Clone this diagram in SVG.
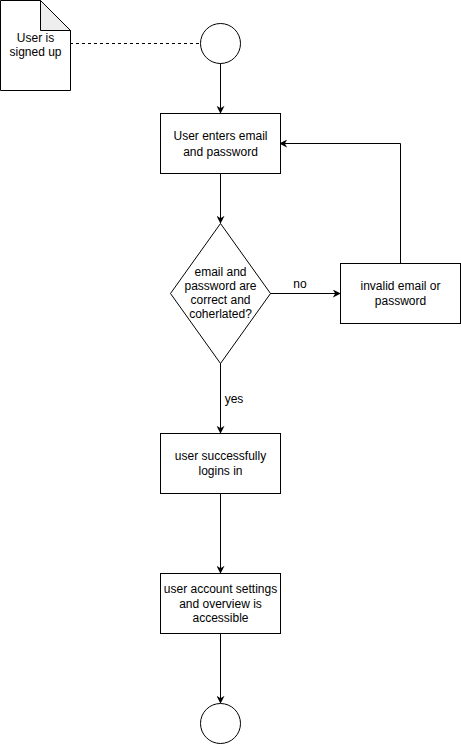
<svg xmlns="http://www.w3.org/2000/svg" width="461" height="744" viewBox="0 0 461 744">
<defs>
<style>
.n{fill:#fff;stroke:#000;stroke-width:1}
.t{font-family:"Liberation Sans",Arial,sans-serif;font-size:12px;fill:#000;text-anchor:middle}
.c{fill:none;stroke:#000;stroke-width:1}
</style>
<marker id="a" viewBox="0 0 10 10" refX="9" refY="5" markerWidth="8" markerHeight="8" markerUnits="userSpaceOnUse" orient="auto">
<path d="M0,0 L10,5 L0,10 L3,5 Z" fill="#000"/>
</marker>
</defs>
<rect width="461" height="744" fill="#fff"/>
<g id="connectors">
<line class="c" x1="70" y1="43.5" x2="200" y2="43.5" stroke-dasharray="3,3"/>
<line class="c" x1="220.5" y1="63" x2="220.5" y2="113" marker-end="url(#a)"/>
<line class="c" x1="220.5" y1="173" x2="220.5" y2="223" marker-end="url(#a)"/>
<line class="c" x1="270" y1="293.5" x2="340" y2="293.5" marker-end="url(#a)"/>
<polyline class="c" points="400.5,263 400.5,143.5 280,143.5" marker-end="url(#a)"/>
<line class="c" x1="220.5" y1="363" x2="220.5" y2="433" marker-end="url(#a)"/>
<line class="c" x1="220.5" y1="493" x2="220.5" y2="573" marker-end="url(#a)"/>
<line class="c" x1="220.5" y1="633" x2="220.5" y2="703" marker-end="url(#a)"/>
<text class="t" x="300" y="288">no</text>
<text class="t" x="234" y="403">yes</text>
</g>
<g id="note">
<path class="n" d="M0.5,0.5 H40.5 L70.5,30.5 V90.5 H0.5 Z"/>
<path d="M40.5,0.5 V30.5 H70.5 Z" fill="#eee" stroke="#000"/>
<text class="t" x="35.5" y="42">User is</text>
<text class="t" x="35.5" y="56">signed up</text>
</g>
<g id="start"><circle class="n" cx="220.5" cy="43.5" r="20"/></g>
<g id="enter">
<rect class="n" x="160.5" y="113.5" width="120" height="60"/>
<text class="t" x="220.5" y="140">User enters email</text>
<text class="t" x="220.5" y="156">and password</text>
</g>
<g id="decision">
<path class="n" d="M220.5,223.5 L270.5,293.5 L220.5,363.5 L170.5,293.5 Z"/>
<text class="t" x="220.5" y="276">email and</text>
<text class="t" x="220.5" y="290">password are</text>
<text class="t" x="220.5" y="304">correct and</text>
<text class="t" x="220.5" y="318">coherlated?</text>
</g>
<g id="invalid">
<rect class="n" x="340.5" y="263.5" width="120" height="60"/>
<text class="t" x="400.5" y="290">invalid email or</text>
<text class="t" x="400.5" y="305">password</text>
</g>
<g id="success">
<rect class="n" x="160.5" y="433.5" width="120" height="60"/>
<text class="t" x="220.5" y="460">user successfully</text>
<text class="t" x="220.5" y="475">logins in</text>
</g>
<g id="account">
<rect class="n" x="160.5" y="573.5" width="120" height="60"/>
<text class="t" x="220.5" y="593">user account settings</text>
<text class="t" x="220.5" y="608">and overview is</text>
<text class="t" x="220.5" y="622">accessible</text>
</g>
<g id="end"><circle class="n" cx="220.5" cy="723.5" r="20"/></g>
</svg>
